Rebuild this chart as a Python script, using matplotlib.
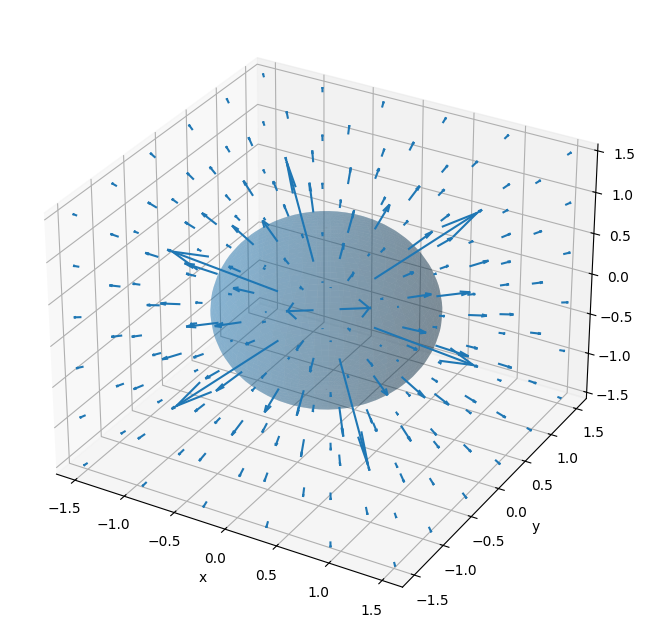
import numpy as np
import matplotlib
matplotlib.use("Agg")
import matplotlib.pyplot as plt

# grid positions along each axis
grid_vals = [-1.5, -0.9, -0.3, 0.3, 0.9, 1.5]
axis_ticks = [-1.5, -1.0, -0.5, 0.0, 0.5, 1.0, 1.5]

# field strength per distance-from-centre shell (squared radius -> magnitude)
shell_r2 = [0.27, 0.99, 1.71, 2.43, 3.15, 3.87, 4.59, 5.31, 6.75]
shell_strength = [3.70, 1.01, 0.585, 0.41, 0.317, 0.258, 0.218, 0.188, 0.148]

sphere_radius = 0.99

X, Y, Z = np.meshgrid(grid_vals, grid_vals, grid_vals, indexing='ij')
x = X.ravel()
y = Y.ravel()
z = Z.ravel()
r2 = x**2 + y**2 + z**2
r = np.sqrt(r2)

# look up the strength of each arrow from its shell
idx = [np.argmin(np.abs(np.array(shell_r2) - a)) for a in r2]
strength = np.array(shell_strength)[idx]
u = x / r * strength
v = y / r * strength
w = z / r * strength

fig = plt.figure(figsize=(8, 8))
ax = fig.add_subplot(projection='3d')

theta = np.linspace(0, 2 * np.pi, 50)
phi = np.linspace(0, np.pi, 50)
sx = sphere_radius * np.outer(np.cos(theta), np.sin(phi))
sy = sphere_radius * np.outer(np.sin(theta), np.sin(phi))
sz = sphere_radius * np.outer(np.ones_like(theta), np.cos(phi))
ax.plot_surface(sx, sy, sz, alpha=0.3, edgecolor='none')

ax.quiver(x, y, z, u, v, w, length=0.30)

ax.set_xlim(-1.69, 1.69)
ax.set_ylim(-1.7, 1.7)
ax.set_zlim(-1.58, 1.58)
ax.set_xticks(axis_ticks)
ax.set_yticks(axis_ticks)
ax.set_zticks(axis_ticks)
ax.set_xlabel('x')
ax.set_ylabel('y')
ax.set_zlabel('z')

plt.savefig('out.png', dpi=100, bbox_inches='tight')
